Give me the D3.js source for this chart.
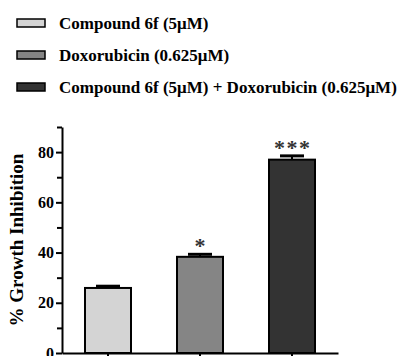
<!DOCTYPE html>
<html>
<head>
<meta charset="utf-8">
<script src="https://cdn.jsdelivr.net/npm/d3@7"></script>
<style>
  body { margin: 0; background: #fff; }
  text { font-family: "Liberation Serif", "Times New Roman", serif; font-weight: bold; }
</style>
</head>
<body>
<div id="chart"></div>
<script>
// data
var groups = ["Compound 6f (5\u03bcM)", "Doxorubicin (0.625\u03bcM)", "Compound 6f (5\u03bcM) + Doxorubicin (0.625\u03bcM)"];
var values = [25.9, 38.3, 77.0];
var errors = [0.7, 1.0, 1.5];
var stars = ["", "*", "***"];
var majorTicks = [0, 20, 40, 60, 80];
var minorTicks = [10, 30, 50, 70, 90];
var fills = ["#d4d4d4", "#858585", "#333333"];

var w = 401, h = 356;

var svg = d3.select("#chart")
    .append("svg")
    .attr("width", w)
    .attr("height", h);

var xScale = d3.scaleBand()
    .domain(d3.range(values.length))
    .range([62, 338])
    .paddingInner(0.5)
    .paddingOuter(0.25);

var yScale = d3.scaleLinear()
    .domain([0, 90])
    .range([353, 127]);

// legend
var legend = svg.append("g").selectAll("g")
    .data(groups)
    .enter()
    .append("g")
    .attr("transform", function (d, i) {
        return "translate(17," + (23 + i * 32) + ")";
    });

legend.append("rect")
    .attr("x", 0)
    .attr("y", -4)
    .attr("width", 28)
    .attr("height", 8)
    .attr("fill", function (d, i) { return fills[i]; })
    .attr("stroke", "#000")
    .attr("stroke-width", 1.5);

legend.append("text")
    .attr("x", 42)
    .attr("y", 5.5)
    .attr("font-size", "17px")
    .attr("fill", "#000")
    .text(function (d) { return d; });

// bars
svg.selectAll("rect.bar")
    .data(values)
    .enter()
    .append("rect")
    .attr("class", "bar")
    .attr("x", function (d, i) { return xScale(i); })
    .attr("y", function (d) { return yScale(d); })
    .attr("width", xScale.bandwidth())
    .attr("height", function (d) { return yScale(0) - yScale(d); })
    .attr("fill", function (d, i) { return fills[i]; })
    .attr("stroke", "#000")
    .attr("stroke-width", 2);

// error bars (upper only)
var err = svg.append("g").selectAll("g")
    .data(values)
    .enter()
    .append("g");

err.append("line")
    .attr("x1", function (d, i) { return xScale(i) + xScale.bandwidth() / 2; })
    .attr("x2", function (d, i) { return xScale(i) + xScale.bandwidth() / 2; })
    .attr("y1", function (d) { return yScale(d); })
    .attr("y2", function (d, i) { return yScale(d + errors[i]); })
    .attr("stroke", "#000")
    .attr("stroke-width", 2);

err.append("line")
    .attr("x1", function (d, i) { return xScale(i) + xScale.bandwidth() / 2 - 12; })
    .attr("x2", function (d, i) { return xScale(i) + xScale.bandwidth() / 2 + 12; })
    .attr("y1", function (d, i) { return yScale(d + errors[i]); })
    .attr("y2", function (d, i) { return yScale(d + errors[i]); })
    .attr("stroke", "#000")
    .attr("stroke-width", 3);

// significance stars
svg.append("g").selectAll("text")
    .data(values)
    .enter()
    .append("text")
    .attr("x", function (d, i) { return xScale(i) + xScale.bandwidth() / 2; })
    .attr("y", function (d, i) { return yScale(d + errors[i]) - 1; })
    .attr("dx", 0.75)
    .attr("text-anchor", "middle")
    .attr("font-family", "'DejaVu Sans', sans-serif")
    .attr("font-weight", "normal")
    .attr("font-size", "22px")
    .attr("letter-spacing", "1.5px")
    .attr("fill", "#333")
    .text(function (d, i) { return stars[i]; });

// y axis
var yAxis = d3.axisLeft(yScale)
    .tickValues(majorTicks)
    .tickSize(6)
    .tickSizeOuter(0)
    .tickPadding(2)
    .tickFormat(d3.format("d"));

var gy = svg.append("g")
    .attr("transform", "translate(62,0)")
    .call(yAxis);

gy.select(".domain").attr("stroke-width", 2);
gy.selectAll(".tick line").attr("stroke-width", 2);
gy.selectAll(".tick text")
    .attr("font-family", "'Liberation Serif', serif")
    .attr("font-weight", "bold")
    .attr("font-size", "16px")
    .attr("fill", "#000");

var gyMinor = svg.append("g")
    .attr("transform", "translate(62,0)")
    .call(d3.axisLeft(yScale).tickValues(minorTicks).tickSize(5).tickSizeOuter(0).tickFormat(""));
gyMinor.select(".domain").remove();
gyMinor.selectAll(".tick line").attr("stroke-width", 2);

// x axis
var gx = svg.append("g")
    .attr("transform", "translate(0,353)")
    .call(d3.axisBottom(xScale).tickSize(6).tickSizeOuter(0).tickFormat(""));
gx.select(".domain").attr("stroke-width", 2);
gx.selectAll(".tick line").attr("stroke-width", 2);

// y label
svg.append("text")
    .attr("transform", "translate(23,240) rotate(-90)")
    .attr("text-anchor", "middle")
    .attr("font-size", "19px")
    .attr("fill", "#000")
    .text("% Growth Inhibition");
</script>
</body>
</html>
